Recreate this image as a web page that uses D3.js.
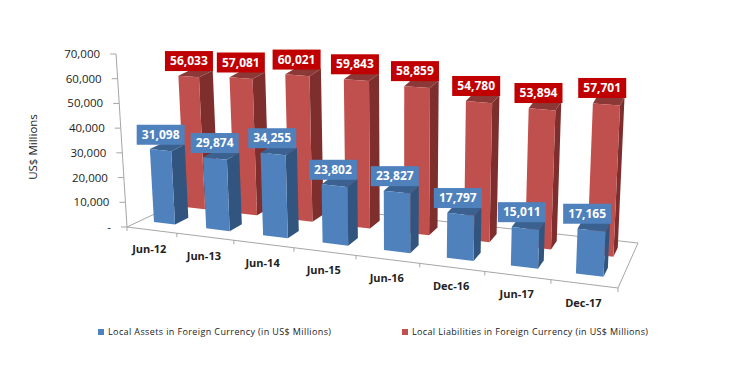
<!DOCTYPE html>
<html>
<head>
<meta charset="utf-8">
<script src="https://cdn.jsdelivr.net/npm/d3@7"></script>
<style>
  html, body { margin: 0; background: #fff; }
  text { font-family: "Open Sans", "Liberation Sans", sans-serif; }
</style>
</head>
<body>
<svg width="736" height="367"></svg>
<script>
const categories = ["Jun-12", "Jun-13", "Jun-14", "Jun-15", "Jun-16", "Dec-16", "Jun-17", "Dec-17"]
const assets = [31098, 29874, 34255, 23802, 23827, 17797, 15011, 17165]
const liabilities = [56033, 57081, 60021, 59843, 58859, 54780, 53894, 57701]
const valueTicks = [0, 10000, 20000, 30000, 40000, 50000, 60000, 70000]

const svg = d3.select("svg")
const comma = d3.format(",")

// the picture is a fake 3d excel chart, so the floor is a quad and
// everything gets projected on to it
const across = d3.scalePow().exponent(1.1).domain([0, 8]).range([0, 1])
const leftX = d3.scaleLinear().domain([0, 1]).range([127, 197])
const leftY = d3.scaleLinear().domain([0, 1]).range([227, 194])
const rightX = d3.scaleLinear().domain([0, 1]).range([618, 638])
const rightY = d3.scaleLinear().domain([0, 1]).range([288, 243])
const rise = d3.scaleLinear().domain([0, 1]).range([173, 195])
const height = d3.scaleLinear().domain([0, 70000])

function project(u, v, value) {
  const s = across(u)
  const fx = leftX(v) + (rightX(v) - leftX(v)) * s
  const fy = leftY(v) + (rightY(v) - leftY(v)) * s
  const h = height(value)
  return [
    fx + (fx - 400) * 0.04 * h,
    fy - rise(s) * h
  ]
}

// bars stand back from the axis plane so they come out a bit shorter
const barDepth = 0.945
const barTop = (u, v, value) => project(u, v, value * barDepth)

function poly(points, fill) {
  svg.append("polygon")
    .attr("points", points.map(p => p.join(",")).join(" "))
    .attr("fill", fill)
}

function line(a, b) {
  svg.append("line")
    .attr("x1", a[0]).attr("y1", a[1])
    .attr("x2", b[0]).attr("y2", b[1])
    .attr("stroke", "#a6a6a6")
    .attr("stroke-width", 1)
}

// floor outline and value axis
line(project(0, 0, 0), project(8, 0, 0))
line(project(8, 0, 0), project(8, 1, 0))
line(project(8, 1, 0), project(0, 1, 0))
line(project(0, 0, 0), project(0, 1, 0))
line(project(0, 0, 0), project(0, 0, 70000))

valueTicks.forEach(t => {
  const p = project(0, 0, t)
  line(p, [p[0] - 6, p[1]])
  svg.append("text")
    .attr("x", p[0] - 16)
    .attr("y", p[1])
    .attr("dy", "0.35em")
    .attr("text-anchor", "end")
    .attr("font-size", 11.5)
    .attr("fill", "#222")
    .text(t == 0 ? "-" : comma(t))
})

d3.range(9).forEach(u => {
  const p = project(u, 0, 0)
  line(p, [p[0], p[1] + 4])
})

svg.append("text")
  .attr("transform", "translate(33,147) rotate(-90)")
  .attr("text-anchor", "middle")
  .attr("dy", "0.35em")
  .attr("font-size", 11.5)
  .attr("fill", "#222")
  .text("US$ Millions")

categories.forEach((c, i) => {
  const p = project(i + 0.5, 0, 0)
  svg.append("text")
    .attr("x", p[0] - 1)
    .attr("y", p[1] + 19)
    .attr("dy", "0.35em")
    .attr("text-anchor", "middle")
    .attr("font-size", 11)
    .attr("font-weight", "bold")
    .attr("fill", "#222")
    .text(c)
})

function bar(i, value, v0, v1, colors) {
  const u0 = i + 0.3
  const u1 = i + 0.72
  poly([project(u1, v0, 0), project(u1, v1, 0), barTop(u1, v1, value), barTop(u1, v0, value)], colors.side)
  poly([barTop(u0, v0, value), barTop(u1, v0, value), barTop(u1, v1, value), barTop(u0, v1, value)], colors.top)
  poly([project(u0, v0, 0), project(u1, v0, 0), barTop(u1, v0, value), barTop(u0, v0, value)], colors.front)
}

function label(i, value, v0, v1, fill) {
  const p = barTop(i + 0.5, (v0 + v1) / 2, value)
  const g = svg.append("g").attr("transform", `translate(${p[0] - 6},${p[1] - 12})`)
  g.append("rect")
    .attr("x", -24).attr("y", -10)
    .attr("width", 48).attr("height", 20)
    .attr("fill", fill)
  g.append("text")
    .attr("text-anchor", "middle")
    .attr("dy", "0.35em")
    .attr("font-size", 12)
    .attr("font-weight", "bold")
    .attr("fill", "#fff")
    .text(comma(value))
}

const redColors = { front: "#c0504d", side: "#7e2f2d", top: "#8c3836" }
const blueColors = { front: "#4f81bd", side: "#31557f", top: "#3a6190" }

liabilities.forEach((d, i) => bar(i, d, 0.65, 0.85, redColors))
assets.forEach((d, i) => bar(i, d, 0.2, 0.4, blueColors))
liabilities.forEach((d, i) => label(i, d, 0.65, 0.85, "#c00000"))
assets.forEach((d, i) => label(i, d, 0.2, 0.4, "#4f81bd"))

// legend
const legend = [
  { name: "Local Assets in Foreign Currency (in US$ Millions)", color: "#4f81bd", x: 98, w: 223 },
  { name: "Local Liabilities in Foreign Currency (in US$ Millions)", color: "#c0504d", x: 402, w: 236 }
]
legend.forEach(d => {
  svg.append("rect")
    .attr("x", d.x).attr("y", 329)
    .attr("width", 6).attr("height", 6)
    .attr("fill", d.color)
  svg.append("text")
    .attr("x", d.x + 10).attr("y", 332)
    .attr("dy", "0.35em")
    .attr("font-size", 9)
    .attr("textLength", d.w)
    .attr("fill", "#222")
    .text(d.name)
})
</script>
</body>
</html>
